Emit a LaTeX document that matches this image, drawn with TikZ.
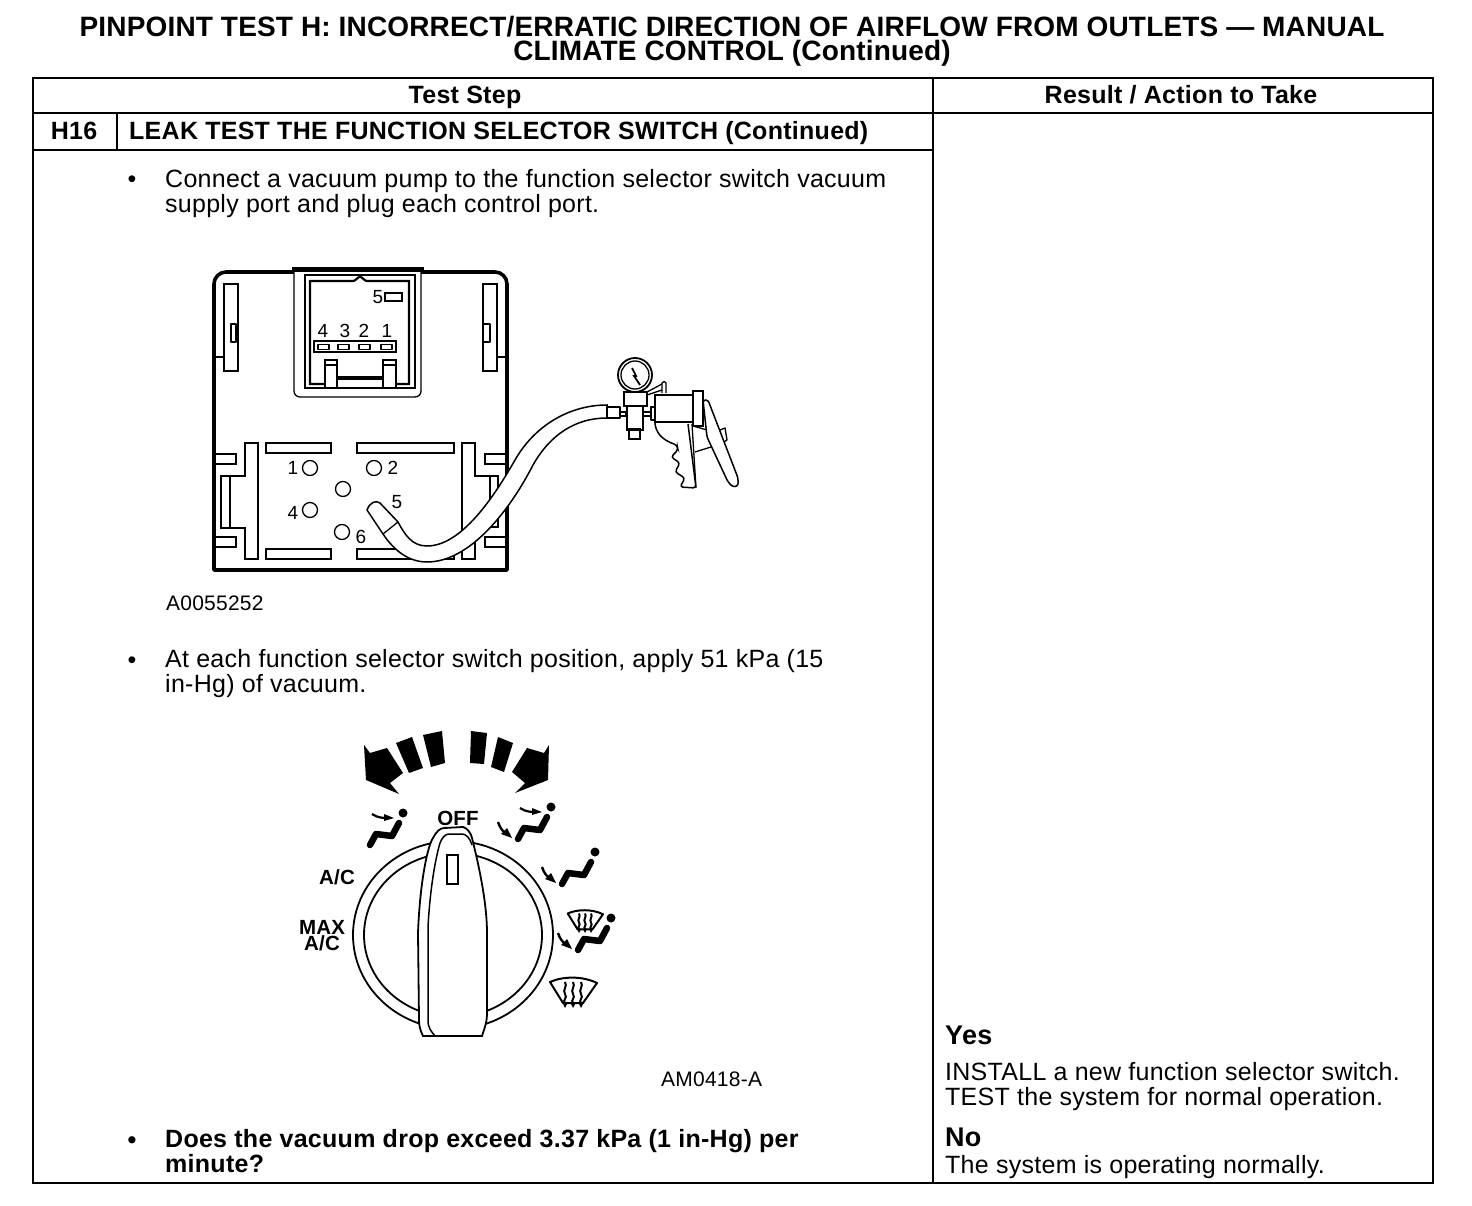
\documentclass[tikz,border=0pt]{standalone}
\usepackage{fontspec}
\setmainfont{Liberation Sans}[LetterSpace=1.1]
\tikzset{
	thinline/.style={line width=1.3pt, line join=round},
	thickline/.style={line width=3.6pt, line join=round},
	steptext/.style={anchor=north west, inner sep=0pt, align=left, font=\fontsize{25}{25}\selectfont},
	boldtext/.style={steptext, font=\fontsize{25}{25}\selectfont\bfseries},
	headtext/.style={anchor=base, inner sep=0pt, font=\fontsize{25}{25}\selectfont\bfseries},
	partno/.style={anchor=base west, inner sep=0pt, font=\fontsize{21}{21}\selectfont},
	pinlabel/.style={inner sep=0pt, font=\fontsize{19}{19}\selectfont},
	diallabel/.style={inner sep=0pt, align=center, font=\fontsize{20.5}{16}\selectfont\bfseries},
	seated/.pic={
		\fill (0,0) circle[radius=4.5];
		\draw[line width=6.5pt, line cap=round, line join=round] (-33,32) -- (-27,21) -- (-11,23) -- (-4,10);
	},
	ventflow/.pic={
		\draw[line width=2.2pt] (-31,1) .. controls (-25,5) and (-20,5) .. (-15,5);
		\fill (-9,5) -- (-19,1) -- (-19,8) -- cycle;
	},
	footflow/.pic={
		\draw[line width=2.4pt] (-53,15) .. controls (-51,21) and (-48,25) .. (-44,27);
		\fill (-39,31) -- (-44,21) -- (-50,27) -- cycle;
	},
	defrost/.pic={
		\draw[line width=2pt, fill=white, line join=round] (-23,6) .. controls (-10,0) and (10,0) .. (24,7) -- (10,27) -- (-10,27) -- cycle;
		\foreach \wx in {-8,0,8}{
			\draw[line width=2pt] (\wx,6) .. controls (\wx+3,10) and (\wx-3,14) .. (\wx,18) .. controls (\wx+3,22) and (\wx-3,24) .. (\wx,27);
			\fill (\wx-3,26) -- (\wx+3,26) -- (\wx,32) -- cycle;
		}
	}
}
\begin{document}
\begin{tikzpicture}[x=1pt, y=-1pt]
	\useasboundingbox (0,0) rectangle (1472,1206);
	% Title
	\node[anchor=north, inner sep=0pt, align=center, font=\fontsize{28}{24}\selectfont\bfseries\addfontfeatures{LetterSpace=0.6}] (title) at (732,16) {PINPOINT TEST H: INCORRECT/ERRATIC DIRECTION OF AIRFLOW FROM OUTLETS --- MANUAL\\CLIMATE CONTROL (Continued)};
	% Table
	\draw[line width=2pt] (33,78) rectangle (1433,1183);
	\draw[line width=2pt] (33,113) -- (1433,113);
	\draw[line width=2pt] (33,150) -- (933,150);
	\draw[line width=2pt] (933,78) -- (933,1183);
	\draw[line width=2pt] (117,113) -- (117,150);
	\node[headtext] (stephead) at (465,104) {Test Step};
	\node[headtext] (resulthead) at (1181,104) {Result / Action to Take};
	\node[headtext] (stepno) at (74,140) {H16};
	\node[headtext, anchor=base west] (steptitle) at (129,140) {LEAK TEST THE FUNCTION SELECTOR SWITCH (Continued)};
	% Bullets and step texts
	\node[steptext, anchor=base] (bulletone) at (132,188) {•};
	\node[steptext] (connect) at (165,169) {Connect a vacuum pump to the function selector switch vacuum\\supply port and plug each control port.};
	\node[partno] (partone) at (166,610) {A0055252};
	\node[steptext, anchor=base] (bullettwo) at (132,668) {•};
	\node[steptext] (apply) at (165,649) {At each function selector switch position, apply 51 kPa (15\\in-Hg) of vacuum.};
	\node[partno] (parttwo) at (661,1086) {AM0418-A};
	\node[boldtext, anchor=base] (bulletthree) at (132,1148) {•};
	\node[boldtext] (question) at (165,1129) {Does the vacuum drop exceed 3.37 kPa (1 in-Hg) per\\minute?};
	% Results
	\node[headtext, anchor=base west, font=\fontsize{27}{27}\selectfont\bfseries] (yes) at (945,1044) {Yes};
	\node[steptext] (install) at (945,1062) {INSTALL a new function selector switch.\\TEST the system for normal operation.};
	\node[headtext, anchor=base west, font=\fontsize{27}{27}\selectfont\bfseries] (no) at (945,1146) {No};
	\node[steptext, anchor=base west] (normal) at (945,1173) {The system is operating normally.};
	% Switch body
	\draw[thickline] (214,570) [rounded corners=12pt] -- (214,272) -- (507,272) [sharp corners] -- (507,570) -- cycle;
	% Connector
	\draw[thinline, fill=white, rounded corners=6pt] (294,268) -- (294,397) -- (421,397) -- (421,268);
	\draw[line width=5pt] (292,269.5) -- (424,269.5);
	\draw[line width=2.2pt] (305,275) rectangle (415,388);
	\draw[line width=2.2pt] (310,281) -- (353,281) .. controls (356,281) and (357,277) .. (360,277) .. controls (363,277) and (364,281) .. (367,281) -- (409,281) -- (409,384) -- (310,384) -- cycle;
	\draw[line width=2.2pt] (314,341) rectangle (396,352);
	\foreach \px in {318,338,359,381}{
		\draw[thinline] (\px,344.5) rectangle ++(11,5);
	}
	\draw[line width=2pt] (385,293) rectangle (402,301);
	\draw[line width=2pt, fill=white] (325,360) rectangle (337,388);
	\draw[line width=2pt, fill=white] (383,360) rectangle (396,388);
	\draw[thinline] (325,365) -- (337,365);
	\draw[thinline] (383,365) -- (396,365);
	\draw[line width=2pt, fill=white] (337,377) rectangle (383,388);
	\draw[thinline] (337,379) -- (383,379);
	\node[pinlabel] (pinfive) at (378,297) {5};
	\node[pinlabel] (pinfour) at (323,331) {4};
	\node[pinlabel] (pinthree) at (345,331) {3};
	\node[pinlabel] (pintwo) at (364,331) {2};
	\node[pinlabel] (pinone) at (387,331) {1};
	% Side clips
	\draw[line width=2pt] (238,284) -- (224,284) -- (224,371) -- (238,371) -- cycle;
	\draw[thinline] (231,324) rectangle (236,342);
	\draw[line width=2pt] (214,357) -- (224,357);
	\draw[line width=2pt] (483,284) -- (497,284) -- (497,371) -- (483,371) -- cycle;
	\draw[thinline] (483,324) rectangle (490,342);
	\draw[line width=2pt] (497,357) -- (507,357);
	% Ports
	\draw[line width=2pt] (266,443) rectangle (331,453);
	\draw[line width=2pt] (357,443) rectangle (454,453);
	\draw[line width=2pt] (266,549) rectangle (331,559);
	\draw[line width=2pt] (357,549) rectangle (454,559);
	\draw[line width=2pt] (245,443) -- (258,443) -- (258,559) -- (245,559) -- (245,528) -- (221,528) -- (221,476) -- (245,476) -- cycle;
	\draw[line width=2pt] (230,476) -- (230,528);
	\draw[line width=2pt] (214,454) -- (236,454) -- (236,464) -- (214,464);
	\draw[line width=2pt] (214,537) -- (236,537) -- (236,547) -- (214,547);
	\draw[line width=2pt] (462,443) -- (475,443) -- (475,476) -- (498,476) -- (498,527) -- (475,527) -- (475,559) -- (462,559) -- cycle;
	\draw[line width=2pt] (490,476) -- (490,527);
	\draw[line width=2pt] (507,454) -- (485,454) -- (485,464) -- (507,464);
	\draw[line width=2pt] (507,537) -- (485,537) -- (485,547) -- (507,547);
	\foreach \cx/\cy in {310/468,374/468,343/489,310/510,342/532}{
		\draw[thinline] (\cx,\cy) circle[radius=7.5];
	}
	\node[pinlabel] (portone) at (293,468) {1};
	\node[pinlabel] (porttwo) at (393,468) {2};
	\node[pinlabel] (portfour) at (293,513) {4};
	\node[pinlabel] (portsix) at (361,537) {6};
	\node[pinlabel] (portfive) at (397,502) {5};
	% Hose
	\draw[line width=1.5pt, fill=white] (607,405) .. controls (570,405) and (535,425) .. (515,460) .. controls (495,495) and (462,546) .. (427,546) .. controls (412,546) and (405,535) .. (398,522) -- (380,503) .. controls (376,500) and (370,502) .. (367,510) -- (383,534) .. controls (395,552) and (410,562) .. (427,562) .. controls (470,562) and (510,510) .. (533,465) .. controls (550,435) and (575,418) .. (607,418) -- cycle;
	\draw[thinline] (383,534) -- (398,522);
	% Vacuum pump
	\draw[thinline, fill=white] (607,407) rectangle (620,418);
	\draw[thinline] (620,412) rectangle (626,416);
	\draw[line width=1.8pt] (635,375) circle[radius=17];
	\draw[thinline] (635,375) circle[radius=14];
	\draw[line width=1.8pt] (632,368) -- (636,376) -- (634,376) -- (640,385);
	\draw[line width=1.8pt, fill=white] (624,392) rectangle (647,406);
	\draw[line width=1.8pt] (627,406) rectangle (643,430);
	\draw[line width=1.8pt] (629,429) rectangle (640,439);
	\draw[thinline] (643,412) rectangle (651,416);
	\draw[thinline] (651,407) rectangle (655,420);
	\draw[line width=2.2pt] (655,395) rectangle (693,422);
	\draw[line width=1.8pt] (693,391) rectangle (703,426);
	\draw[thinline] (647,392) -- (662,384);
	\draw[thinline] (647,395) -- (662,390);
	\draw[thinline] (662,393) -- (662,383) .. controls (663,381) and (665,381) .. (666,383) -- (666,393);
	\draw[line width=1.5pt, rounded corners=3pt] (655,422) .. controls (655,432) and (662,440) .. (677,445) -- (678,450) -- (671,457) -- (680,463) -- (675,472) -- (685,478) -- (680,487) -- (696,488) -- (688,424);
	\draw[thinline] (692,424) -- (696,488);
	\draw[line width=1.5pt, rounded corners=2.5pt] (703,400) -- (708,400) -- (738,478) -- (738,486) -- (733,487) -- (728,482) -- (707,437) -- cycle;
	\draw[thinline] (720,430) -- (725,428) -- (727,440) -- (724,442);
	\draw[thinline] (695,452) -- (711,447);
	\draw[thinline] (693,426) -- (707,430);
	% Direction arrows
	\fill (364,745) -- (370,753) -- (387,748) -- (403,773) -- (390,783) -- (399,794) -- (366,780) -- cycle;
	\fill (396,743) -- (412,737) -- (423,768) -- (409,773) -- cycle;
	\fill (423,735) -- (442,731) -- (445,763) -- (431,767) -- cycle;
	\fill (471,731) -- (487,733) -- (484,764) -- (470,763) -- cycle;
	\fill (498,737) -- (513,743) -- (504,772) -- (491,767) -- cycle;
	\fill (527,748) -- (544,753) -- (549,745) -- (548,780) -- (515,793) -- (525,783) -- (512,772) -- cycle;
	% Dial
	\draw[line width=1.8pt] (453,935) ellipse[x radius=100, y radius=94];
	\draw[line width=1.8pt] (453,935) ellipse[x radius=89, y radius=82];
	\draw[line width=1.8pt, fill=white] (423,1036) .. controls (420,1030) and (419,1025) .. (419,1020) -- (418,933) .. controls (420,880) and (428,845) .. (433,838) .. controls (436,832) and (440,828) .. (444,828) -- (463,827) .. controls (467,828) and (471,833) .. (472,838) .. controls (480,870) and (487,905) .. (487,933) -- (487,1015) .. controls (487,1022) and (484,1030) .. (482,1036) -- cycle;
	\draw[line width=1.5pt] (435,1036) .. controls (431,1031) and (428,1028) .. (428,1020) -- (428,927) .. controls (430,890) and (435,860) .. (440,843) .. controls (442,838) and (445,834) .. (449,834) -- (462,834) .. controls (466,834) and (470,838) .. (472,845);
	\draw[line width=1.8pt] (447,855) rectangle (458,884);
	\node[diallabel] (labeloff) at (458,818) {OFF};
	\node[diallabel] (labelac) at (337,877) {A/C};
	\node[diallabel] (labelmax) at (322,936) {MAX\\A/C};
	% Dial icons
	\pic at (403,813) {seated};
	\pic at (403,813) {ventflow};
	\pic at (551,807) {seated};
	\pic at (551,807) {ventflow};
	\pic at (551,807) {footflow};
	\pic at (595,852) {seated};
	\pic at (595,852) {footflow};
	\pic[scale=0.75] at (585,909) {defrost};
	\pic at (611,918) {seated};
	\pic at (611,918) {footflow};
	\pic at (573,976) {defrost};
\end{tikzpicture}
\end{document}
